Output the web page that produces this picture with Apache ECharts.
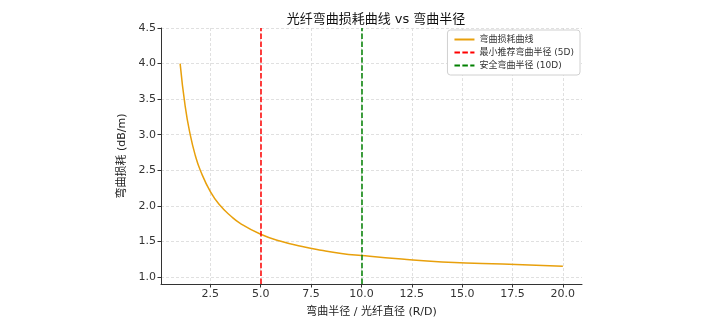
<!DOCTYPE html>
<html>
<head>
<meta charset="utf-8">
<script src="https://cdn.jsdelivr.net/npm/echarts@6/dist/echarts.min.js"></script>
<style>
  html, body { margin: 0; padding: 0; background: #fff; }
  #chart { width: 705px; height: 323px; }
</style>
</head>
<body>
<div id="chart"></div>
<script>
// bend radius ratio R/D and loss (dB/m)
const radiusRatio = [1, 1.25, 1.5, 1.75, 2, 2.5, 3, 3.5, 4, 5, 6, 7, 8, 9, 10, 12, 14, 16, 18, 20];
const lossValues = [4.0, 3.4, 3.0, 2.71, 2.5, 2.2, 2.0, 1.86, 1.75, 1.6, 1.5, 1.43, 1.375, 1.33, 1.3, 1.25, 1.21, 1.19, 1.17, 1.15];
const xTicks = [2.5, 5, 7.5, 10, 12.5, 15, 17.5, 20];
const yTicks = [1.0, 1.5, 2.0, 2.5, 3.0, 3.5, 4.0, 4.5];
const minRadius = 5;
const safeRadius = 10;

const font = 'DejaVu Sans, Noto Sans CJK SC, sans-serif';
const chart = echarts.init(document.getElementById('chart'));

const curveData = radiusRatio.map((r, i) => [r, lossValues[i]]);
const dash = [5.5, 2.4];

chart.setOption({
  animation: false,
  title: {
    text: '光纤弯曲损耗曲线 vs 弯曲半径',
    left: 371,
    textAlign: 'center',
    top: 8,
    textStyle: { fontFamily: font, fontSize: 13, fontWeight: 'normal', color: '#111' },
  },
  grid: { left: 161, right: 123, top: 28, bottom: 35 },
  legend: {
    orient: 'vertical',
    right: 125,
    top: 30,
    padding: [5, 6, 5, 6],
    itemGap: 4,
    itemWidth: 20,
    itemHeight: 10,
    backgroundColor: '#fff',
    borderColor: '#d0d0d0',
    borderWidth: 1,
    borderRadius: 3,
    itemStyle: { opacity: 0 },
    textStyle: { fontFamily: font, fontSize: 9, color: '#333' },
    data: ['弯曲损耗曲线', '最小推荐弯曲半径 (5D)', '安全弯曲半径 (10D)'],
  },
  xAxis: {
    type: 'value',
    min: 0.05,
    max: 20.95,
    name: '弯曲半径 / 光纤直径 (R/D)',
    nameLocation: 'middle',
    nameGap: 23,
    nameTextStyle: { fontFamily: font, fontSize: 11, color: '#222' },
    axisLine: { show: true, onZero: false, lineStyle: { color: '#333', width: 1 } },
    axisTick: { show: true, length: 3.5, lineStyle: { color: '#333' }, customValues: xTicks },
    axisLabel: {
      fontFamily: font, fontSize: 11, color: '#333', margin: 5,
      customValues: xTicks,
      formatter: (v) => v.toFixed(1),
    },
    splitLine: { show: true, lineStyle: { color: '#d8d8d8', type: [3, 2], width: 0.8 } },
  },
  yAxis: {
    type: 'value',
    min: 0.9,
    max: 4.5,
    name: '弯曲损耗 (dB/m)',
    nameLocation: 'middle',
    nameGap: 28,
    nameTextStyle: { fontFamily: font, fontSize: 11, color: '#222' },
    axisLine: { show: true, lineStyle: { color: '#333', width: 1 } },
    axisTick: { show: true, length: 3.5, lineStyle: { color: '#333' }, customValues: yTicks },
    axisLabel: {
      fontFamily: font, fontSize: 11, color: '#333', margin: 5,
      customValues: yTicks,
      formatter: (v) => v.toFixed(1),
    },
    splitLine: { show: true, lineStyle: { color: '#d8d8d8', type: [3, 2], width: 0.8 } },
  },
  series: [
    {
      name: '弯曲损耗曲线',
      type: 'line',
      smooth: true,
      symbol: 'none',
      lineStyle: { color: '#E8A00C', width: 1.5 },
      itemStyle: { color: '#E8A00C' },
      data: curveData,
    },
    {
      name: '最小推荐弯曲半径 (5D)',
      type: 'line',
      symbol: 'none',
      lineStyle: { color: '#ff0000', width: 1.5, type: dash },
      itemStyle: { color: '#ff0000' },
      data: [],
      markLine: {
        silent: true,
        symbol: 'none',
        label: { show: false },
        lineStyle: { color: '#ff0000', width: 1.5, type: dash },
        data: [{ xAxis: minRadius }],
      },
    },
    {
      name: '安全弯曲半径 (10D)',
      type: 'line',
      symbol: 'none',
      lineStyle: { color: '#008000', width: 1.5, type: dash },
      itemStyle: { color: '#008000' },
      data: [],
      markLine: {
        silent: true,
        symbol: 'none',
        label: { show: false },
        lineStyle: { color: '#008000', width: 1.5, type: dash },
        data: [{ xAxis: safeRadius }],
      },
    },
  ],
});
</script>
</body>
</html>
